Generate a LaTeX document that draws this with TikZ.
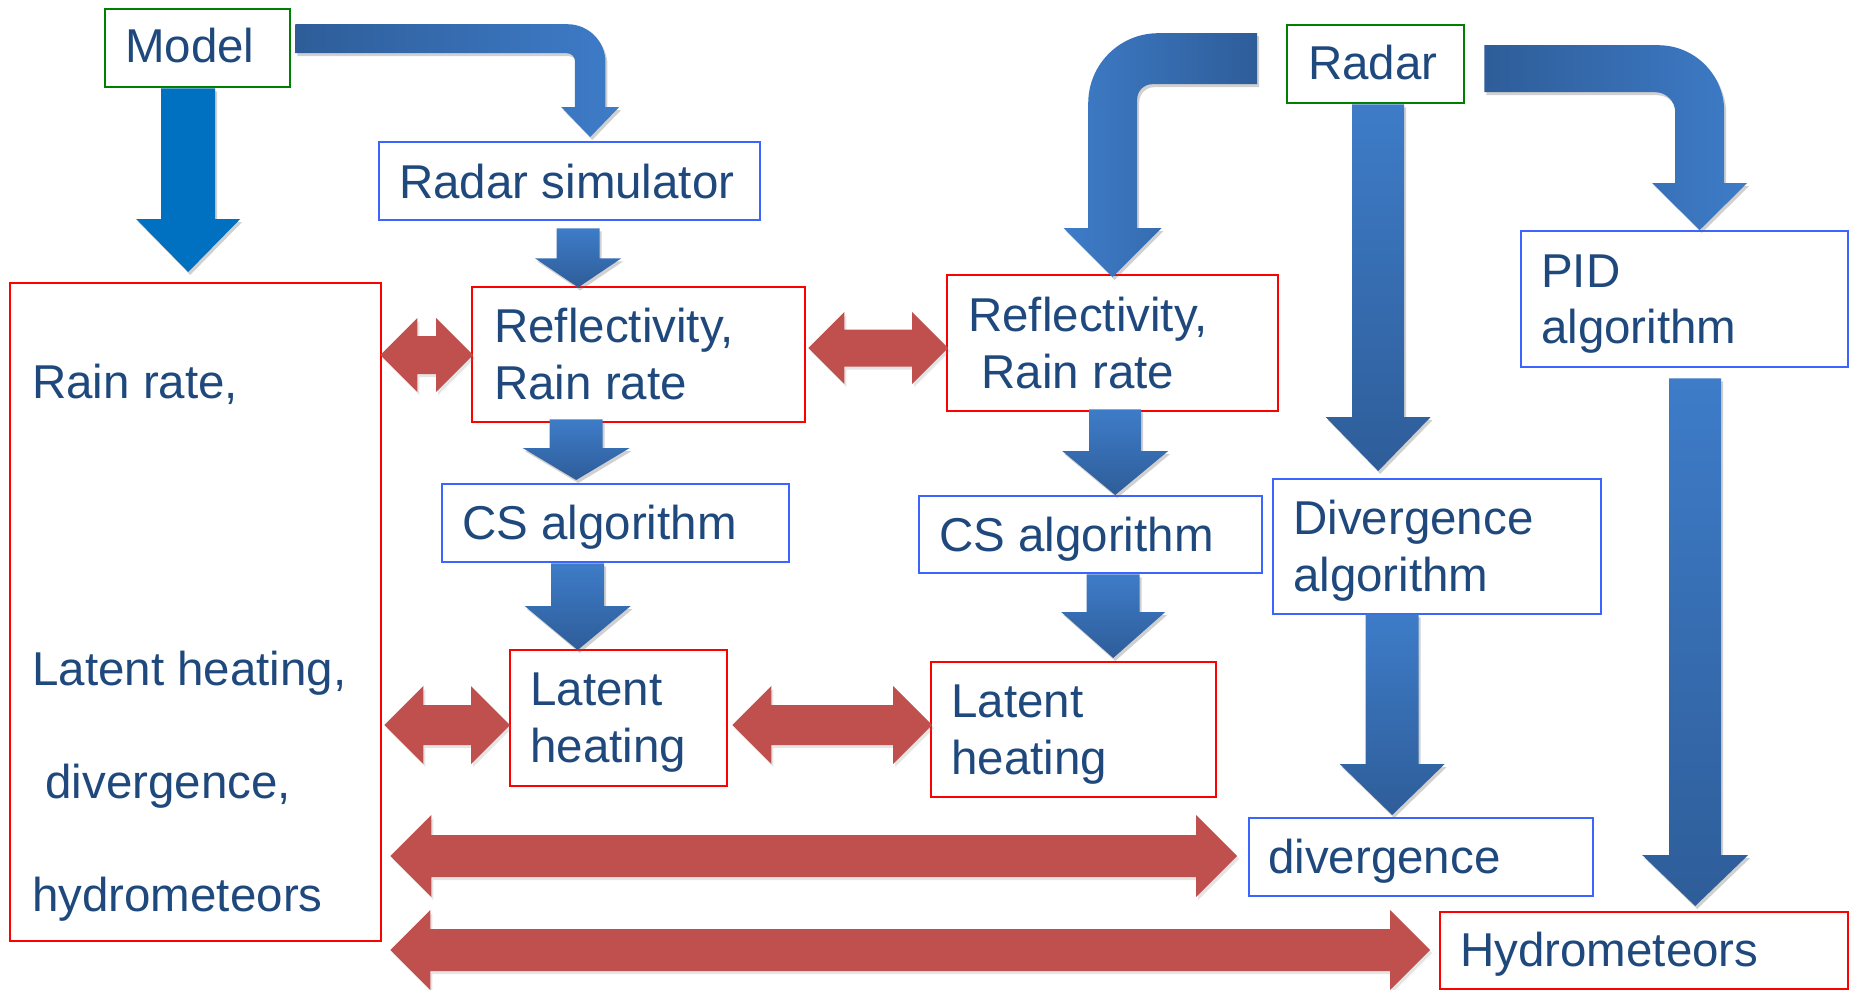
\documentclass[tikz,border=0pt]{standalone}
\usepackage{fontspec}
\setmainfont{Liberation Sans}
\usetikzlibrary{calc,shadows}
\definecolor{txtblue}{HTML}{1F497D}
\definecolor{boxred}{RGB}{255,0,0}
\definecolor{boxblue}{RGB}{60,100,255}
\definecolor{boxgreen}{RGB}{0,128,0}
\definecolor{arrred}{HTML}{C0504D}
\definecolor{arrlight}{RGB}{62,124,200}
\definecolor{arrdark}{RGB}{46,93,153}
\definecolor{modelblue}{HTML}{0070C0}

% vertical block arrow: #1 style, #2 top point, #3 tip point, #4 shaft half width, #5 head half width, #6 head length
\newcommand\vdownarrow[6]{%
  \path[#1] let \p1=(#2), \p2=(#3) in
    ({\x2-#4},\y1) -- ({\x2+#4},\y1) -- ({\x2+#4},{\y2+#6}) -- ({\x2+#5},{\y2+#6})
    -- (\x2,\y2) -- ({\x2-#5},{\y2+#6}) -- ({\x2-#4},{\y2+#6}) -- cycle;}

% horizontal double block arrow: #1 style, #2 left tip, #3 right tip, #4 row point, #5 shaft half, #6 head half (= head length)
\newcommand\hdoublearrow[6]{%
  \path[#1] let \p1=(#2), \p2=(#3), \p3=(#4) in
    (\x1,\y3) -- ({\x1+#6},{\y3+#6}) -- ({\x1+#6},{\y3+#5}) -- ({\x2-#6},{\y3+#5})
    -- ({\x2-#6},{\y3+#6}) -- (\x2,\y3) -- ({\x2-#6},{\y3-#6}) -- ({\x2-#6},{\y3-#5})
    -- ({\x1+#6},{\y3-#5}) -- ({\x1+#6},{\y3-#6}) -- cycle;}

% bent block arrow: #1 start (bar end centre), #2 tip, #3 direction (1 or -1), #4 bar half thickness,
% #5 shaft half width, #6 outer radius, #7 inner radius, #8 head half width, #9 head length
\newcommand\bentarrow[9]{%
  \path[bent#3] let \p1=(#1), \p2=(#2) in
    (\x1,{\y1+#4})
    -- ({\x2+#3*(#5-#6)},{\y1+#4})
    .. controls ({\x2+#3*(#5-#6+0.5523*#6)},{\y1+#4}) and ({\x2+#3*#5},{\y1+#4-#6+0.5523*#6}) ..
    ({\x2+#3*#5},{\y1+#4-#6})
    -- ({\x2+#3*#5},{\y2+#9})
    -- ({\x2+#3*#8},{\y2+#9})
    -- (\x2,\y2)
    -- ({\x2-#3*#8},{\y2+#9})
    -- ({\x2-#3*#5},{\y2+#9})
    -- ({\x2-#3*#5},{\y1-#4-#7})
    .. controls ({\x2-#3*#5},{\y1-#4-#7+0.5523*#7}) and ({\x2-#3*(#5+#7-0.5523*#7)},{\y1-#4}) ..
    ({\x2-#3*(#5+#7)},{\y1-#4})
    -- (\x1,{\y1-#4}) -- cycle;}

\tikzset{
  boxbase/.style={draw, line width=2.4pt, inner sep=0pt, anchor=north west},
  redbox/.style={boxbase, draw=boxred},
  bluebox/.style={boxbase, draw=boxblue},
  greenbox/.style={boxbase, draw=boxgreen},
  lbl/.style={font=\fontsize{47.5}{57}\selectfont, text=txtblue, inner sep=0pt, anchor=base west},
  blueshadow/.style={drop shadow={shadow xshift=2pt, shadow yshift=-3pt, opacity=0.3, fill=black!60}},
  vshade/.style={top color=arrlight, bottom color=arrdark, blueshadow},
  bent1/.style={left color=arrdark, right color=arrlight, blueshadow},
  bent-1/.style={left color=arrlight, right color=arrdark, blueshadow},
  modelarrow/.style={fill=modelblue, blueshadow},
  redarrow/.style={fill=arrred, drop shadow={shadow xshift=2pt, shadow yshift=-3pt, opacity=0.2, fill=black!50}},
}

\begin{document}
\begin{tikzpicture}[x=1pt, y=-1pt]
\path[use as bounding box, fill=white] (0,0) rectangle (1852,990);

% boxes
\node[greenbox, minimum width=185pt, minimum height=78pt] (model) at (104,8) {};
\node[greenbox, minimum width=177pt, minimum height=78pt] (radar) at (1286,24) {};
\node[bluebox, minimum width=381pt, minimum height=78pt] (rs) at (378,141) {};
\node[redbox, minimum width=333pt, minimum height=135pt] (refl1) at (471,286) {};
\node[redbox, minimum width=331pt, minimum height=136pt] (refl2) at (946,274) {};
\node[bluebox, minimum width=347pt, minimum height=78pt] (cs1) at (441,483) {};
\node[bluebox, minimum width=343pt, minimum height=77pt] (cs2) at (918,495) {};
\node[redbox, minimum width=217pt, minimum height=136pt] (lat1) at (509,649) {};
\node[redbox, minimum width=285pt, minimum height=135pt] (lat2) at (930,661) {};
\node[bluebox, minimum width=328pt, minimum height=135pt] (divalg) at (1272,478) {};
\node[bluebox, minimum width=327pt, minimum height=136pt] (pid) at (1520,230) {};
\node[bluebox, minimum width=344pt, minimum height=78pt] (div) at (1248,817) {};
\node[redbox, minimum width=408pt, minimum height=77pt] (hyd) at (1439,911) {};
\node[redbox, minimum width=371pt, minimum height=658pt] (big) at (9,282) {};

% texts
\node[lbl] (t-model) at (125,63) {Model};
\node[lbl] (t-radar) at (1308,80) {Radar};
\node[lbl] (t-rs) at (399,198) {Radar simulator};
\node[lbl] (t-refl1a) at (494,342) {Reflectivity,};
\node[lbl] (t-refl1b) at (494,399) {Rain rate};
\node[lbl] (t-refl2a) at (968,331) {Reflectivity,};
\node[lbl] (t-refl2b) at (968,388) {\ Rain rate};
\node[lbl] (t-cs1) at (462,539) {CS algorithm};
\node[lbl] (t-cs2) at (939,551) {CS algorithm};
\node[lbl] (t-lat1a) at (530,705) {Latent};
\node[lbl] (t-lat1b) at (530,762) {heating};
\node[lbl] (t-lat2a) at (951,717) {Latent};
\node[lbl] (t-lat2b) at (951,774) {heating};
\node[lbl] (t-diva) at (1293,534) {Divergence};
\node[lbl] (t-divb) at (1293,591) {algorithm};
\node[lbl] (t-pida) at (1541,287) {PID};
\node[lbl] (t-pidb) at (1541,343) {algorithm};
\node[lbl] (t-div) at (1268,873) {divergence};
\node[lbl] (t-hyd) at (1460,966) {Hydrometeors};
\node[lbl] (t-big1) at (32,398) {Rain rate,};
\node[lbl] (t-big2) at (32,685) {Latent heating,};
\node[lbl] (t-big3) at (32,798) {\ divergence,};
\node[lbl] (t-big4) at (32,911) {hydrometeors};

% bent arrows
\bentarrow{$(model.east)+(4,-9.5)$}{$(rs.north)+(20.5,-4)$}{1}{14.5}{15.25}{38}{8}{29}{30}
\bentarrow{$(radar.west)+(-29,-5.5)$}{$(refl2.north)+(0,3)$}{-1}{25.5}{24.5}{70}{15}{49}{49}
\bentarrow{$(radar.east)+(19,4.5)$}{$(pid.north)+(15,0)$}{1}{23.5}{24.5}{66}{20}{47.5}{47}

% vertical arrows
\vdownarrow{modelarrow}{model.south}{$(big.north)+(-7.5,-10)$}{27}{52}{53}
\vdownarrow{vshade}{$(rs.south)+(0,7)$}{$(rs.south)+(8.5,66)$}{21.5}{43}{29}
\vdownarrow{vshade}{$(refl1.south)+(0,-4)$}{$(cs1.north)+(-39.5,-3)$}{26.5}{53.5}{32}
\vdownarrow{vshade}{cs1.south}{$(lat1.north)+(-41,1)$}{26.5}{53}{44}
\vdownarrow{vshade}{$(refl2.south)+(0,-3)$}{$(cs2.north)+(24.5,0)$}{26}{53}{44}
\vdownarrow{vshade}{cs2.south}{$(lat2.north)+(39.5,-3)$}{26.5}{52}{46}
\vdownarrow{vshade}{radar.south}{$(divalg.north)+(-59,-7)$}{26}{52.5}{54}
\vdownarrow{vshade}{$(divalg.south)+(0,-1)$}{$(div.north)+(-29,-2)$}{26.5}{52.5}{51}
\vdownarrow{vshade}{$(pid.south)+(0,10)$}{$(hyd.north)+(51,-5)$}{26}{53}{51}

% red double arrows
\hdoublearrow{redarrow}{$(big.east)+(-2,0)$}{$(refl1.west)+(2,0)$}{0,355}{19}{37}
\hdoublearrow{redarrow}{$(refl1.east)+(2,0)$}{$(refl2.west)+(2,0)$}{0,348}{18.5}{36}
\hdoublearrow{redarrow}{$(big.east)+(2,0)$}{$(lat1.west)+(1,0)$}{0,725}{20}{39}
\hdoublearrow{redarrow}{$(lat1.east)+(4,0)$}{$(lat2.west)+(2,0)$}{0,725}{20}{39}
\hdoublearrow{redarrow}{$(big.east)+(8,0)$}{$(div.west)+(-11,0)$}{0,856}{21}{41}
\hdoublearrow{redarrow}{$(big.east)+(8,0)$}{$(hyd.west)+(-9,0)$}{0,950}{21}{40}
\end{tikzpicture}
\end{document}
